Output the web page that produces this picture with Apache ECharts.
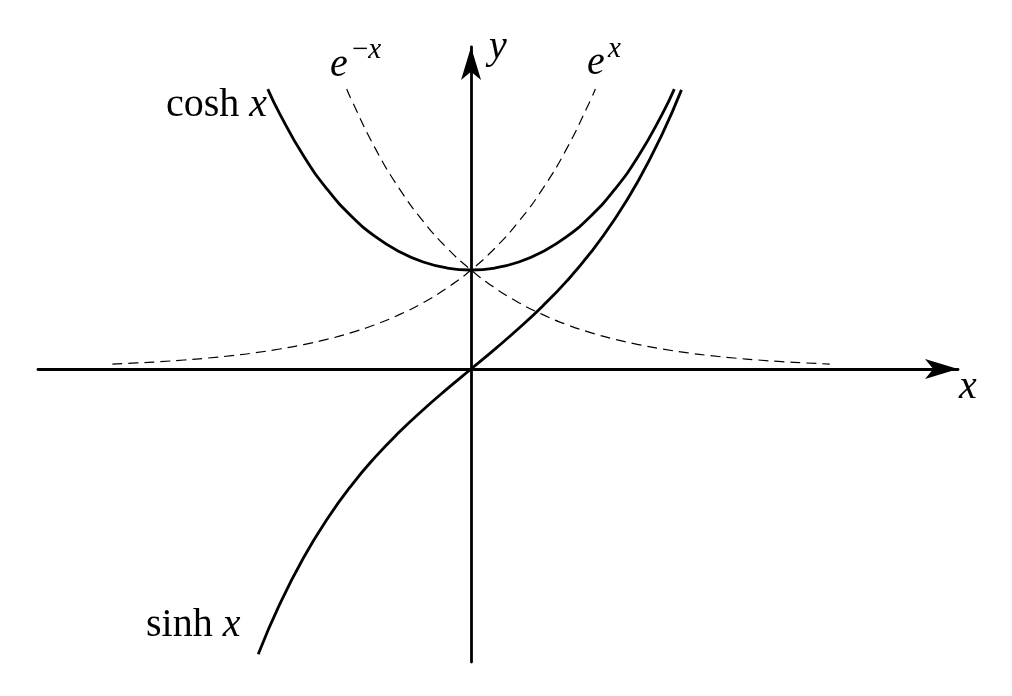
<!DOCTYPE html>
<html>
<head>
<meta charset="utf-8">
<script src="https://cdn.jsdelivr.net/npm/echarts@6/dist/echarts.min.js"></script>
<style>
html,body{margin:0;padding:0;background:#fff;}
#main{width:1012px;height:696px;}
</style>
</head>
<body>
<div id="main"></div>
<script>
// ---- data ----
const coshX = [-1.7, -1.6, -1.4, -1.2, -1.0, -0.8, -0.6, -0.4, -0.2, 0, 0.2, 0.4, 0.6, 0.8, 1.0, 1.2, 1.4, 1.6, 1.7];
const coshY = [2.828, 2.578, 2.151, 1.811, 1.543, 1.337, 1.186, 1.081, 1.020, 1.0, 1.020, 1.081, 1.186, 1.337, 1.543, 1.811, 2.151, 2.578, 2.828];

const sinhX = [-1.78, -1.6, -1.4, -1.2, -1.0, -0.8, -0.6, -0.4, -0.2, 0, 0.2, 0.4, 0.6, 0.8, 1.0, 1.2, 1.4, 1.6, 1.76];
const sinhY = [-2.881, -2.376, -1.904, -1.510, -1.175, -0.888, -0.637, -0.411, -0.201, 0, 0.201, 0.411, 0.637, 0.888, 1.175, 1.510, 1.904, 2.376, 2.820];

const expX = [-3.0, -2.8, -2.6, -2.4, -2.2, -2.0, -1.8, -1.6, -1.4, -1.2, -1.0, -0.8, -0.6, -0.4, -0.2, 0, 0.2, 0.4, 0.6, 0.8, 1.0, 1.04];
const expY = [0.050, 0.061, 0.074, 0.091, 0.111, 0.135, 0.165, 0.202, 0.247, 0.301, 0.368, 0.449, 0.549, 0.670, 0.819, 1.0, 1.221, 1.492, 1.822, 2.226, 2.718, 2.829];

const expNegX = [-1.04, -1.0, -0.8, -0.6, -0.4, -0.2, 0, 0.2, 0.4, 0.6, 0.8, 1.0, 1.2, 1.4, 1.6, 1.8, 2.0, 2.2, 2.4, 2.6, 2.8, 3.0];
const expNegY = [2.829, 2.718, 2.226, 1.822, 1.492, 1.221, 1.0, 0.819, 0.670, 0.549, 0.449, 0.368, 0.301, 0.247, 0.202, 0.165, 0.135, 0.111, 0.091, 0.074, 0.061, 0.050];

const xRange = [-3.622, 4.073];
const yRange = [-2.960, 3.253];

const labels = {
  cosh: 'cosh', sinh: 'sinh', x: 'x', y: 'y', e: 'e', minus: '\u2212'
};

function zip(xs, ys) { return xs.map((x, i) => [x, ys[i]]); }

const serif = "'Liberation Serif', 'DejaVu Serif', serif";
const chart = echarts.init(document.getElementById('main'), null, {renderer: 'canvas'});

const axisCommon = {
  type: 'value',
  splitLine: {show: false},
  axisTick: {show: false},
  axisLabel: {show: false},
  axisLine: {
    show: true,
    onZero: true,
    symbol: ['none', 'arrow'],
    symbolSize: [15, 33],
    lineStyle: {color: '#000', width: 2.8}
  }
};

const solid = {color: '#000', width: 2.8};
const dashed = {color: '#000', width: 1.2, type: [10, 6]};

function txt(left, top, rich, size) {
  return {
    type: 'text', left: left, top: top, z: 100,
    style: {
      text: rich.text, rich: rich.rich,
      font: size + 'px ' + serif, fill: '#000'
    }
  };
}

const rn = {fontFamily: serif, fontSize: 40, fontStyle: 'normal', color: '#000'};
const it = {fontFamily: serif, fontSize: 40, fontStyle: 'italic', color: '#000'};
const sp = {fontFamily: serif, fontSize: 29, fontStyle: 'normal', color: '#000'};
const spi = {fontFamily: serif, fontSize: 29, fontStyle: 'italic', color: '#000'};

chart.setOption({
  animation: false,
  backgroundColor: '#fff',
  grid: {left: 38, right: 54, top: 47, bottom: 34, containLabel: false},
  xAxis: Object.assign({}, axisCommon, {min: xRange[0], max: xRange[1]}),
  yAxis: Object.assign({}, axisCommon, {min: yRange[0], max: yRange[1]}),
  series: [
    {type: 'line', data: zip(expX, expY), smooth: true, showSymbol: false, lineStyle: dashed, clip: false, z: 2},
    {type: 'line', data: zip(expNegX, expNegY), smooth: true, showSymbol: false, lineStyle: dashed, clip: false, z: 2},
    {type: 'line', data: zip(coshX, coshY), smooth: true, showSymbol: false, lineStyle: solid, clip: false, z: 3},
    {type: 'line', data: zip(sinhX, sinhY), smooth: true, showSymbol: false, lineStyle: solid, clip: false, z: 3}
  ],
  graphic: [
    txt(166, 85, {text: '{r|' + labels.cosh + ' }{i|' + labels.x + '}', rich: {r: rn, i: it}}, 40),
    txt(146, 605, {text: '{r|' + labels.sinh + ' }{i|' + labels.x + '}', rich: {r: rn, i: it}}, 40),
    txt(330, 45, {text: '{i|' + labels.e + '}', rich: {i: it}}, 40),
    txt(352, 36, {text: '{r|' + labels.minus + '}{i|' + labels.x + '}', rich: {r: sp, i: spi}}, 29),
    txt(587, 43, {text: '{i|' + labels.e + '}', rich: {i: it}}, 40),
    txt(608, 35, {text: '{i|' + labels.x + '}', rich: {i: spi}}, 29),
    txt(489, 27, {text: '{i|' + labels.y + '}', rich: {i: it}}, 40),
    txt(959, 367, {text: '{i|' + labels.x + '}', rich: {i: it}}, 40)
  ]
});
</script>
</body>
</html>
